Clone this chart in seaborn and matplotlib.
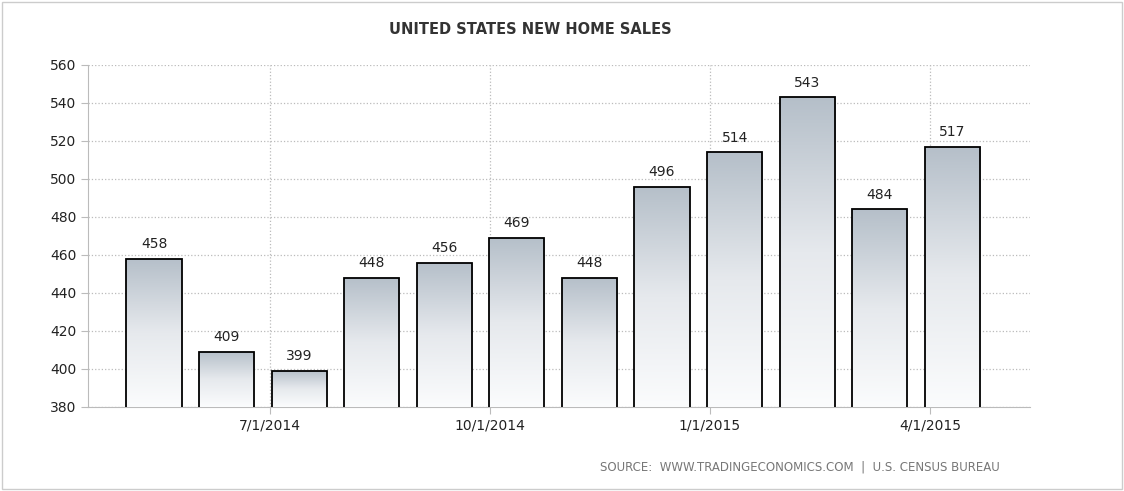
import matplotlib
matplotlib.use("Agg")
import matplotlib.pyplot as plt
import seaborn as sns
import numpy as np
import pandas as pd
from matplotlib.colors import LinearSegmentedColormap

months = ["2014-05","2014-06","2014-07","2014-08","2014-09","2014-10","2014-11","2014-12","2015-01","2015-02","2015-03","2015-04"]
sales = [458,409,399,448,456,469,448,496,514,543,484,517]
tick_labels = ["7/1/2014","10/1/2014","1/1/2015","4/1/2015"]
tick_pos = [1.6,4.63,7.66,10.69]
yticks = list(range(380,561,20))

df = pd.DataFrame({"m":months,"v":sales})
fig = plt.figure(figsize=(11.24,4.91),dpi=100)
ax = fig.add_axes([88/1124, 1-407/491, (1030-88)/1124, (407-65)/491])
sns.barplot(data=df, x="m", y="v", ax=ax, color="white", edgecolor="black", linewidth=1.3, width=0.76, zorder=3)
grad = np.linspace(0,1,256).reshape(-1,1)
cmap = LinearSegmentedColormap.from_list("g",["#fbfcfd","#e6e9ed","#b5bfc9"])
for p in ax.patches:
    x0 = p.get_x()
    x1 = x0+p.get_width()
    y1 = p.get_y()+p.get_height()
    im = ax.imshow(grad, cmap=cmap, extent=[x0,x1,380,y1], origin="lower", aspect="auto", zorder=3.5)
    im.set_clip_path(p)
    p.set_facecolor("none"); p.set_zorder(4)
    ax.text(x0+p.get_width()/2, y1+4, str(int(p.get_height())), ha="center", va="bottom", fontsize=10, color="#222222", zorder=5)
ax.set_xlim(-0.91,12.07); ax.set_ylim(380,560)
ax.set_xticks(tick_pos); ax.set_xticklabels(tick_labels, fontsize=10, color="#222222")
ax.set_yticks(yticks); ax.set_yticklabels([str(y) for y in yticks], fontsize=10, color="#222222")
ax.set_xlabel(""); ax.set_ylabel("")
ax.grid(True, color="#bbbbbb", linestyle=":", linewidth=0.9, zorder=0)
ax.set_axisbelow(True)
for s in ["top","right"]: ax.spines[s].set_visible(False)
ax.spines["left"].set_color("#bbbbbb"); ax.spines["bottom"].set_color("#bbbbbb")
ax.tick_params(axis="both", length=5, color="#bbbbbb")
fig.text(530/1124, 1-30/491, "UNITED STATES NEW HOME SALES", ha="center", va="center", fontsize=10.5, fontweight="bold", color="#333333")
fig.text(1000/1124, 1-467/491, "SOURCE:  WWW.TRADINGECONOMICS.COM  |  U.S. CENSUS BUREAU", ha="right", va="center", fontsize=8.5, color="#777777")
fig.add_artist(plt.Rectangle((0.002,0.004),0.996,0.992, transform=fig.transFigure, fill=False, edgecolor="#cccccc", linewidth=1))
fig.savefig("out.png", dpi=100)
